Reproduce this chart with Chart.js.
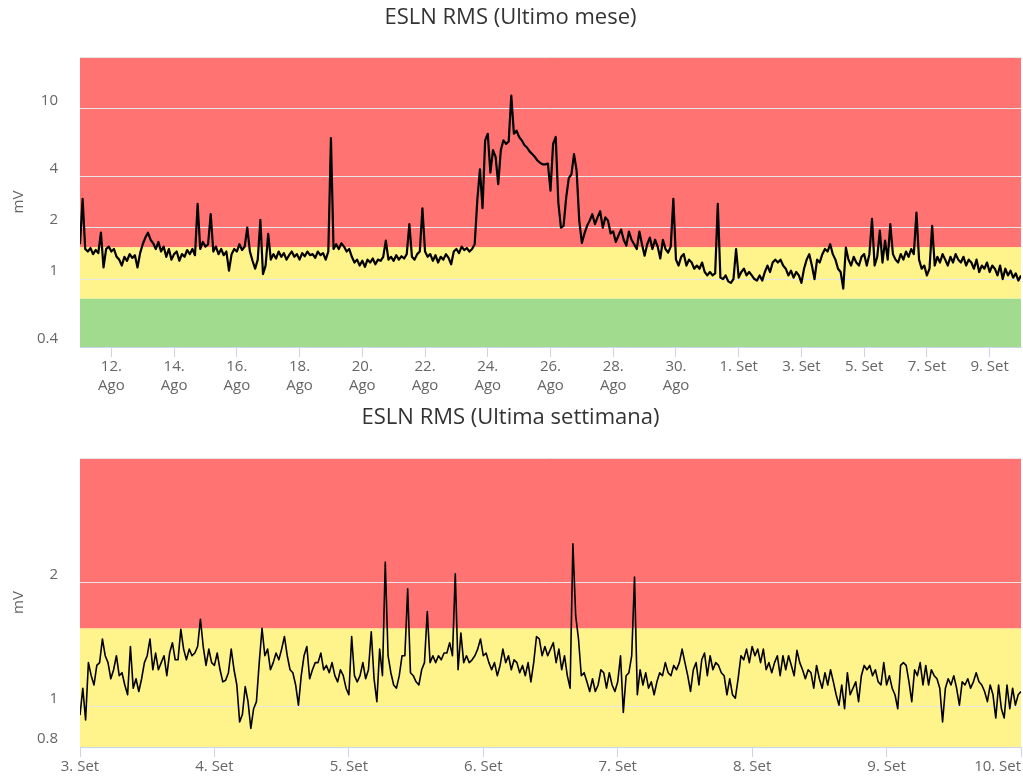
<!DOCTYPE html>
<html>
<head>
<meta charset="utf-8">
<title>ESLN RMS</title>
<script src="https://cdn.jsdelivr.net/npm/chart.js@4.4.1/dist/chart.umd.min.js"></script>
<style>
  body { margin: 0; background: #fff; }
  canvas { display: block; }
</style>
</head>
<body>
<canvas id="month-chart" width="1023" height="400"></canvas>
<canvas id="week-chart" width="1023" height="380"></canvas>
<script>
// Last month: one RMS reading (mV) every 2 hours, from 11 Ago 00:00
const monthStepDays = 1 / 12;
const monthValues = [
  1.6, 2.95, 1.5, 1.45, 1.52, 1.4, 1.48, 1.42, 1.87, 1.17,
  1.5, 1.55, 1.45, 1.5, 1.35, 1.3, 1.2, 1.35, 1.28, 1.4,
  1.33, 1.38, 1.17, 1.42, 1.6, 1.75, 1.87, 1.7, 1.62, 1.5,
  1.65, 1.45, 1.55, 1.35, 1.5, 1.3, 1.4, 1.45, 1.28, 1.4,
  1.35, 1.48, 1.4, 1.5, 1.38, 2.76, 1.5, 1.65, 1.55, 1.6,
  2.4, 1.45, 1.55, 1.4, 1.5, 1.38, 1.45, 1.12, 1.4, 1.5,
  1.45, 1.6, 1.48, 1.55, 2.0, 1.45, 1.28, 1.15, 1.3, 2.22,
  1.07, 1.2, 1.84, 1.3, 1.4, 1.32, 1.45, 1.35, 1.42, 1.3,
  1.38, 1.45, 1.35, 1.4, 1.3, 1.42, 1.36, 1.45, 1.38, 1.4,
  1.33, 1.45, 1.38, 1.42, 1.3, 1.45, 6.7, 1.5, 1.6, 1.5,
  1.62, 1.55, 1.45, 1.5, 1.35, 1.25, 1.3, 1.2, 1.28, 1.18,
  1.3, 1.25, 1.32, 1.22, 1.3, 1.28, 1.35, 1.68, 1.3, 1.35,
  1.28, 1.38, 1.3, 1.36, 1.32, 1.4, 2.1, 1.35, 1.3, 1.4,
  1.45, 2.6, 1.45, 1.35, 1.4, 1.28, 1.38, 1.25, 1.35, 1.3,
  1.4, 1.33, 1.22, 1.45, 1.5, 1.42, 1.55, 1.48, 1.52, 1.45,
  1.5, 1.6, 2.9, 4.4, 2.6, 6.5, 7.1, 4.2, 5.7, 5.2,
  3.6, 5.7, 6.5, 6.2, 6.4, 11.9, 7.1, 7.4, 6.8, 6.5,
  6.1, 5.9, 5.6, 5.4, 5.2, 4.95, 4.8, 4.7, 4.7, 4.75,
  3.3, 6.2, 6.8, 2.8, 2.0, 2.05, 3.0, 3.9, 4.1, 5.4,
  4.3, 2.2, 1.63, 1.85, 2.05, 2.2, 2.4, 2.1, 2.3, 2.5,
  2.0, 2.3, 2.2, 1.85, 1.9, 1.65, 1.8, 1.95, 1.7, 1.57,
  1.9, 1.7, 1.6, 1.5, 1.9, 1.6, 1.37, 1.6, 1.75, 1.5,
  1.7, 1.55, 1.32, 1.7, 1.5, 1.43, 1.55, 2.95, 1.3, 1.2,
  1.35, 1.4, 1.2, 1.3, 1.25, 1.15, 1.2, 1.15, 1.25, 1.1,
  1.05, 1.1, 1.05, 1.08, 2.76, 1.02, 1.0, 1.05, 0.97, 0.95,
  1.0, 1.5, 1.02, 1.1, 1.15, 1.05, 1.1, 1.05, 1.0, 0.98,
  1.05, 0.98, 1.1, 1.2, 1.1, 1.25, 1.3, 1.25, 1.3, 1.2,
  1.15, 1.05, 1.12, 1.02, 1.1, 1.05, 0.95, 1.15, 1.3, 1.4,
  1.2, 1.0, 1.3, 1.25, 1.4, 1.5, 1.45, 1.6, 1.4, 1.3,
  1.15, 1.1, 0.88, 1.53, 1.3, 1.2, 1.35, 1.25, 1.2, 1.35,
  1.4, 1.2, 1.4, 2.25, 1.2, 1.35, 1.92, 1.25, 1.68, 1.3,
  2.1, 1.4, 1.3, 1.25, 1.4, 1.3, 1.45, 1.35, 1.5, 1.4,
  2.45, 1.3, 1.15, 1.2, 1.05, 1.15, 2.05, 1.2, 1.35, 1.25,
  1.4, 1.3, 1.2, 1.35, 1.25, 1.4, 1.3, 1.25, 1.35, 1.2,
  1.3, 1.25, 1.15, 1.3, 1.1, 1.2, 1.15, 1.25, 1.1, 1.2,
  1.15, 1.05, 1.2, 1.0, 1.15, 1.05, 1.12, 1.02, 1.08, 0.98, 1.05
];
const monthTickDays = [1, 3, 5, 7, 9, 11, 13, 15, 17, 19, 21, 23, 25, 27, 29];
const monthTickLabels = [
  ['12.', 'Ago'], ['14.', 'Ago'], ['16.', 'Ago'], ['18.', 'Ago'], ['20.', 'Ago'],
  ['22.', 'Ago'], ['24.', 'Ago'], ['26.', 'Ago'], ['28.', 'Ago'], ['30.', 'Ago'],
  '1. Set', '3. Set', '5. Set', '7. Set', '9. Set'
];
const monthYTicks = [0.4, 1, 2, 4, 10];
const monthRange = [0.4, 20];
// limits between green, yellow and red
const monthBandLimits = [0.4, 0.77, 1.54, 20];

// Last week: one RMS reading (mV) every 30 minutes, from 3 Set 00:00
const weekStepDays = 1 / 48;
const weekValues = [
  0.955, 1.11, 0.93, 1.28, 1.19, 1.13, 1.26, 1.28, 1.46, 1.33,
  1.28, 1.17, 1.23, 1.33, 1.19, 1.21, 1.13, 1.07, 1.40, 1.11,
  1.17, 1.09, 1.17, 1.28, 1.33, 1.46, 1.23, 1.35, 1.23, 1.28,
  1.33, 1.19, 1.35, 1.43, 1.30, 1.30, 1.54, 1.38, 1.30, 1.38,
  1.33, 1.35, 1.40, 1.63, 1.40, 1.26, 1.38, 1.28, 1.26, 1.35,
  1.23, 1.15, 1.16, 1.21, 1.38, 1.23, 1.13, 0.92, 0.96, 1.12,
  1.03, 0.887, 0.99, 1.03, 1.28, 1.55, 1.33, 1.38, 1.23, 1.28,
  1.35, 1.30, 1.38, 1.48, 1.33, 1.23, 1.21, 1.13, 1.01, 1.19,
  1.33, 1.40, 1.17, 1.23, 1.28, 1.28, 1.35, 1.23, 1.26, 1.21,
  1.28, 1.19, 1.15, 1.23, 1.19, 1.11, 1.07, 1.48, 1.19, 1.15,
  1.19, 1.28, 1.17, 1.23, 1.52, 1.17, 1.03, 1.38, 1.19, 2.24,
  1.33, 1.21, 1.13, 1.11, 1.19, 1.33, 1.33, 1.93, 1.21, 1.19,
  1.15, 1.13, 1.23, 1.28, 1.70, 1.28, 1.33, 1.28, 1.33, 1.30,
  1.35, 1.35, 1.43, 1.33, 2.10, 1.23, 1.51, 1.28, 1.33, 1.28,
  1.30, 1.33, 1.38, 1.46, 1.33, 1.35, 1.28, 1.23, 1.28, 1.19,
  1.26, 1.38, 1.28, 1.33, 1.23, 1.30, 1.28, 1.21, 1.26, 1.19,
  1.28, 1.15, 1.28, 1.48, 1.46, 1.33, 1.40, 1.33, 1.38, 1.43,
  1.28, 1.38, 1.23, 1.33, 1.19, 1.11, 2.48, 1.66, 1.46, 1.19,
  1.21, 1.15, 1.09, 1.17, 1.09, 1.13, 1.23, 1.21, 1.11, 1.21,
  1.13, 1.09, 1.15, 1.33, 0.97, 1.19, 1.21, 1.33, 2.06, 1.07,
  1.23, 1.13, 1.21, 1.11, 1.15, 1.07, 1.15, 1.21, 1.19, 1.28,
  1.21, 1.19, 1.26, 1.23, 1.28, 1.38, 1.28, 1.19, 1.09, 1.23,
  1.28, 1.13, 1.30, 1.35, 1.19, 1.33, 1.23, 1.28, 1.26, 1.21,
  1.19, 1.07, 1.17, 1.07, 1.05, 1.17, 1.33, 1.30, 1.38, 1.28,
  1.40, 1.33, 1.38, 1.28, 1.38, 1.23, 1.28, 1.21, 1.28, 1.33,
  1.19, 1.33, 1.23, 1.33, 1.26, 1.19, 1.37, 1.28, 1.23, 1.17,
  1.23, 1.21, 1.11, 1.26, 1.17, 1.11, 1.21, 1.13, 1.23, 1.15,
  1.07, 1.01, 1.13, 0.99, 1.21, 1.07, 1.11, 1.15, 1.03, 1.19,
  1.26, 1.23, 1.26, 1.19, 1.23, 1.15, 1.13, 1.28, 1.13, 1.19,
  1.11, 1.07, 0.99, 1.26, 1.28, 1.26, 1.15, 1.03, 1.23, 1.19,
  1.28, 1.13, 1.26, 1.13, 1.23, 1.19, 1.17, 1.11, 0.92, 1.11,
  1.17, 1.13, 1.19, 1.11, 1.01, 1.15, 1.13, 1.17, 1.11, 1.15,
  1.21, 1.15, 1.13, 1.09, 1.03, 1.13, 1.07, 0.94, 1.13, 0.99,
  0.94, 1.13, 0.99, 1.11, 1.01, 1.07, 1.09
];
const weekTickDays = [0, 1, 2, 3, 4, 5, 6, 7];
const weekTickLabels = ['3. Set', '4. Set', '5. Set', '6. Set', '7. Set', '8. Set', '9. Set', '10. Set'];
const weekYTicks = [0.8, 1, 2];
const weekRange = [0.8, 4];
// limits between yellow and red
const weekBandLimits = [0.8, 1.55, 4];

const FONT = 'Open Sans';
const RED = '#ff7373';
const YELLOW = '#fff38c';
const GREEN = '#a1db8e';

// Coloured alarm bands behind grid and line
const bandPlugin = {
    id: 'bands',
    beforeDraw(chart, args, opts) {
        const ctx = chart.ctx;
        const area = chart.chartArea;
        const y = chart.scales.y;
        ctx.save();
        ctx.fillStyle = '#ffffff';
        ctx.fillRect(0, 0, chart.width, chart.height);
        for (let i = 0; i < opts.limits.length - 1; i++) {
            const top = y.getPixelForValue(opts.limits[i + 1]);
            const bottom = y.getPixelForValue(opts.limits[i]);
            ctx.fillStyle = opts.colors[i];
            ctx.fillRect(area.left, top, area.right - area.left, bottom - top);
        }
        ctx.restore();
    }
};

function makeChart(id, cfg) {
    const ctx = document.getElementById(id).getContext('2d');
    const points = cfg.values.map((v, i) => ({ x: i * cfg.step, y: v }));
    const lastTick = cfg.tickDays.length - 1;

    return new Chart(ctx, {
        type: 'line',
        data: {
            datasets: [{
                data: points,
                borderColor: '#000000',
                borderWidth: cfg.lineWidth,
                borderJoinStyle: 'round',
                pointRadius: 0,
                tension: 0,
                fill: false
            }]
        },
        plugins: [bandPlugin],
        options: {
            responsive: false,
            animation: false,
            layout: { padding: { left: 0, right: 2, top: 0, bottom: 0 } },
            plugins: {
                legend: { display: false },
                tooltip: { enabled: false },
                title: {
                    display: true,
                    text: cfg.title,
                    color: '#333333',
                    font: { family: FONT, size: 22, weight: 'normal' },
                    padding: { top: 5, bottom: cfg.titleGap }
                },
                bands: { limits: cfg.bandLimits, colors: cfg.bandColors }
            },
            scales: {
                x: {
                    type: 'linear',
                    min: 0,
                    max: cfg.xMax,
                    afterBuildTicks: (s) => { s.ticks = cfg.tickDays.map(v => ({ value: v })); },
                    afterFit: (s) => { s.height = cfg.axisHeight; s.paddingLeft = 0; s.paddingRight = 0; },
                    ticks: {
                        autoSkip: false,
                        maxRotation: 0,
                        minRotation: 0,
                        padding: 0,
                        color: '#666666',
                        font: { family: FONT, size: 15, lineHeight: 1.27 },
                        callback: (v, i) => {
                            const label = cfg.tickLabels[i];
                            // keep the last label inside the plot edge
                            if (cfg.shiftLast && i === lastTick) return label + ' '.repeat(12);
                            return label;
                        }
                    },
                    grid: { drawOnChartArea: false, drawTicks: true, tickLength: 10, tickColor: '#ccd6eb' },
                    border: { color: '#ccd6eb' }
                },
                y: {
                    type: 'logarithmic',
                    min: cfg.range[0],
                    max: cfg.range[1],
                    afterBuildTicks: (s) => {
                        s.ticks = cfg.yTicks.concat([cfg.range[1]]).map(v => ({ value: v }));
                    },
                    afterFit: (s) => { s.width = 80; },
                    ticks: {
                        padding: 22,
                        labelOffset: -8,
                        color: '#666666',
                        font: { family: FONT, size: 15 },
                        callback: (v) => cfg.yTicks.includes(v) ? String(v) : ''
                    },
                    grid: { color: '#e6e6e6', drawTicks: false },
                    border: { display: false },
                    title: {
                        display: true,
                        text: 'mV',
                        color: '#666666',
                        font: { family: FONT, size: 15 },
                        padding: { top: 10, bottom: 0 }
                    }
                }
            }
        }
    });
}

makeChart('month-chart', {
    title: 'ESLN RMS (Ultimo mese)',
    values: monthValues,
    step: monthStepDays,
    xMax: 30,
    tickDays: monthTickDays,
    tickLabels: monthTickLabels,
    yTicks: monthYTicks,
    range: monthRange,
    bandLimits: monthBandLimits,
    bandColors: [GREEN, YELLOW, RED],
    titleGap: 25.6,
    axisHeight: 53,
    lineWidth: 2.2,
    shiftLast: false
});

makeChart('week-chart', {
    title: 'ESLN RMS (Ultima settimana)',
    values: weekValues,
    step: weekStepDays,
    xMax: 7,
    tickDays: weekTickDays,
    tickLabels: weekTickLabels,
    yTicks: weekYTicks,
    range: weekRange,
    bandLimits: weekBandLimits,
    bandColors: [YELLOW, RED],
    titleGap: 26.6,
    axisHeight: 33,
    lineWidth: 1.6,
    shiftLast: true
});
</script>
</body>
</html>
